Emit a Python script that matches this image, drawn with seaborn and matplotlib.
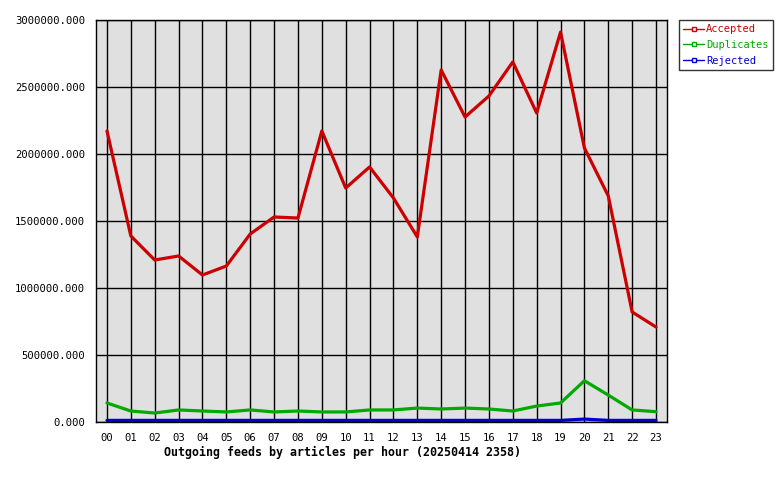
import numpy as np
import pandas as pd
import matplotlib
matplotlib.use("Agg")
import matplotlib.pyplot as plt
import seaborn as sns
from matplotlib.lines import Line2D

hours = ["00", "01", "02", "03", "04", "05", "06", "07", "08", "09", "10", "11",
         "12", "13", "14", "15", "16", "17", "18", "19", "20", "21", "22", "23"]

accepted = [2172000, 1388000, 1209000, 1239000, 1097000, 1164000, 1403000, 1530000,
            1522000, 2172000, 1746000, 1903000, 1672000, 1381000, 2627000, 2276000,
            2433000, 2687000, 2306000, 2910000, 2045000, 1687000, 821000, 709000]
duplicates = [142000, 82000, 67000, 90000, 82000, 75000, 90000, 75000,
              82000, 75000, 75000, 90000, 90000, 104000, 97000, 104000,
              97000, 82000, 119000, 142000, 308000, 201000, 90000, 77000]
rejected = [12000, 12000, 12000, 12000, 12000, 12000, 12000, 12000,
            12000, 12000, 12000, 12000, 12000, 12000, 12000, 12000,
            12000, 12000, 12000, 12000, 22000, 12000, 12000, 12000]

series = ["Accepted", "Duplicates", "Rejected"]
colors = ["#cc0000", "#00aa00", "#0000cc"]

df = pd.DataFrame({
    "hour": list(range(24)) * 3,
    "value": accepted + duplicates + rejected,
    "series": [s for s in series for _ in range(24)],
})

sns.set_style("white")
plt.rcParams["font.family"] = ["DejaVu Sans Mono"]

fig = plt.figure(figsize=(7.8, 4.8), dpi=100)
ax = fig.add_axes([96 / 780, 58 / 480, 571 / 780, 402 / 480])
ax.set_facecolor("#e0e0e0")

sns.lineplot(data=df, x="hour", y="value", hue="series", palette=colors,
             linewidth=2.3, ax=ax, legend=False)

ax.set_xlim(-0.46, 23.46)
ax.set_ylim(0, 3000000)
ax.set_xticks(range(24))
ax.set_xticklabels(hours)
yt = np.arange(0, 3000001, 500000)
ax.set_yticks(yt)
ax.set_yticklabels([f"{v:.3f}" for v in yt])
ax.grid(True, color="black", linewidth=1)
ax.set_axisbelow(True)
for s in ax.spines.values():
    s.set_color("black")
    s.set_linewidth(1)
ax.tick_params(axis="both", length=5, color="black", labelsize=7.6, colors="black", pad=3)
ax.set_xlabel("")
ax.set_ylabel("")
fig.text(164 / 780, 1 - 452 / 480, "Outgoing feeds by articles per hour (20250414 2358)",
         fontsize=8.4, fontweight="bold", ha="left", va="center", color="black")

handles = [Line2D([0], [0], color=c, linewidth=1, marker="s", markersize=3,
                  markerfacecolor="white", markeredgecolor=c) for c in colors]
leg = fig.legend(handles, series, loc="upper left", bbox_to_anchor=(679 / 780, 1 - 20 / 480),
                 fontsize=7.5, frameon=True, fancybox=False, handlelength=2.0,
                 handletextpad=0.2, borderpad=0.4, labelspacing=0.55, borderaxespad=0)
leg.get_frame().set_edgecolor("black")
leg.get_frame().set_linewidth(1)
for t, c in zip(leg.get_texts(), colors):
    t.set_color(c)

fig.savefig("out.png", dpi=100)
